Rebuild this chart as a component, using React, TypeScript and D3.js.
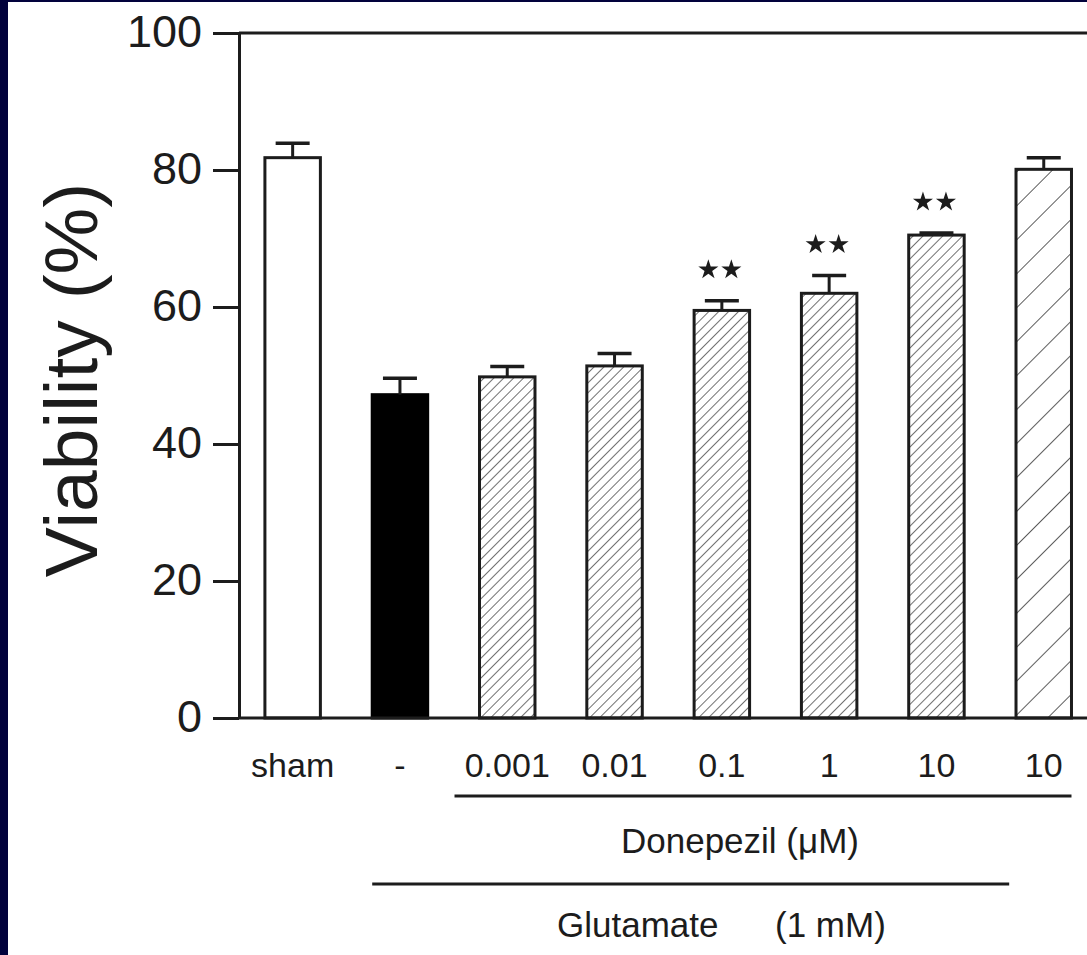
import React, { useRef, useEffect } from "react"
import * as d3 from "d3"

// groups along the x axis (last two are both 10 µM)
const categories = ["sham", "-", "0.001", "0.01", "0.1", "1", "10", "10"]
const viability = [81.8, 47.2, 49.8, 51.4, 59.5, 62.0, 70.5, 80.1]
const sem = [2.1, 2.4, 1.5, 1.8, 1.4, 2.6, 0.3, 1.7]
const barStyle = ["open", "solid", "hatch", "hatch", "hatch", "hatch", "hatch", "hatchWide"]
const significance = ["", "", "", "", "**", "**", "**", ""]
const yTicks = [0, 20, 40, 60, 80, 100]

const yLabel = "Viability (%)"
const donepezilLabel = "Donepezil (\u03bcM)"
const glutamateLabel = ["Glutamate", "(1 mM)"]

const W = 1087
const H = 955
const INK = "#1c1c1c"
const FONT = "'Liberation Sans', Arial, Helvetica, sans-serif"

export default function App() {
    const svgRef = useRef<SVGSVGElement>(null)

    useEffect(() => {
        if (!svgRef.current) return
        const svg = d3.select(svgRef.current)
        svg.selectAll("*").remove()

        // navy frame on the left / top edge
        svg.append("rect").attr("width", W).attr("height", H).attr("fill", "#02023c")
        svg.append("rect").attr("x", 8).attr("y", 2).attr("width", W).attr("height", H).attr("fill", "#ffffff")

        const defs = svg.append("defs")
        const addHatch = (id: string, gap: number, sw: number) => {
            defs.append("pattern")
                .attr("id", id)
                .attr("patternUnits", "userSpaceOnUse")
                .attr("width", gap)
                .attr("height", gap)
                .attr("patternTransform", "rotate(45)")
                .append("line")
                .attr("x1", 0).attr("y1", 0)
                .attr("x2", 0).attr("y2", gap)
                .attr("stroke", "#333")
                .attr("stroke-width", sw)
        }
        addHatch("hatch", 7, 1.4)
        addHatch("hatchWide", 24, 1.6)

        const left = 239
        const step = 107.3
        const ids = categories.map((_, i) => String(i))

        const x = d3.scaleBand<string>()
            .domain(ids)
            .range([left, left + step * categories.length])
            .paddingInner(0.483)
            .paddingOuter(0.2415)

        const y = d3.scaleLinear().domain([0, 100]).range([718, 33])

        const g = svg.append("g")

        // bars
        ids.forEach((id, i) => {
            const s = barStyle[i]
            const fill = s === "open" ? "#fff" : s === "solid" ? "#000" : `url(#${s})`
            g.append("rect")
                .attr("x", x(id)!)
                .attr("y", y(viability[i]))
                .attr("width", x.bandwidth())
                .attr("height", y(0) - y(viability[i]))
                .attr("fill", fill)
                .attr("stroke", s === "solid" ? "#000" : INK)
                .attr("stroke-width", 3)
        })

        // error bars (upper only)
        ids.forEach((id, i) => {
            const cx = x(id)! + x.bandwidth() / 2
            const top = y(viability[i] + sem[i])
            g.append("line")
                .attr("x1", cx).attr("x2", cx)
                .attr("y1", y(viability[i])).attr("y2", top)
                .attr("stroke", INK).attr("stroke-width", 3)
            g.append("line")
                .attr("x1", cx - 17).attr("x2", cx + 17)
                .attr("y1", top).attr("y2", top)
                .attr("stroke", INK).attr("stroke-width", 3.5)
        })

        // significance stars
        const star = d3.symbol().type(d3.symbolStar).size(125)
        ids.forEach((id, i) => {
            if (!significance[i]) return
            const cx = x(id)! + x.bandwidth() / 2 - 2
            const cy = y(viability[i] + sem[i]) - 31
            significance[i].split("").forEach((_, k, arr) => {
                const off = (k - (arr.length - 1) / 2) * 23
                g.append("path")
                    .attr("d", star()!)
                    .attr("transform", `translate(${cx + off},${cy})`)
                    .attr("fill", INK)
            })
        })

        // y axis
        const yAxis = g.append("g")
            .attr("transform", `translate(${left},0)`)
            .call(d3.axisLeft(y).tickValues(yTicks).tickSize(26).tickSizeOuter(0).tickPadding(11))
        yAxis.selectAll("line").attr("stroke", INK).attr("stroke-width", 3)
        yAxis.select(".domain").attr("stroke", INK).attr("stroke-width", 3)
        yAxis.selectAll("text")
            .attr("fill", INK)
            .attr("font-family", FONT)
            .attr("font-size", 45)
            .attr("dy", "0.3em")

        // frame top and baseline
        g.append("line")
            .attr("x1", left).attr("x2", W)
            .attr("y1", y(100)).attr("y2", y(100))
            .attr("stroke", INK).attr("stroke-width", 3)
        g.append("line")
            .attr("x1", left).attr("x2", W)
            .attr("y1", y(0)).attr("y2", y(0))
            .attr("stroke", INK).attr("stroke-width", 3)

        // category labels
        ids.forEach((id, i) => {
            g.append("text")
                .attr("x", x(id)! + x.bandwidth() / 2)
                .attr("y", 777)
                .attr("text-anchor", "middle")
                .attr("font-family", FONT)
                .attr("font-size", 34)
                .attr("fill", INK)
                .text(categories[i])
        })

        // treatment brackets
        const x2 = x("2")!
        const x7 = x("7")! + x.bandwidth()
        g.append("line")
            .attr("x1", x2 - 25).attr("x2", x7)
            .attr("y1", 796).attr("y2", 796)
            .attr("stroke", INK).attr("stroke-width", 3)
        g.append("text")
            .attr("x", 740)
            .attr("y", 853)
            .attr("text-anchor", "middle")
            .attr("font-family", FONT)
            .attr("font-size", 35)
            .attr("fill", INK)
            .text(donepezilLabel)

        const x1 = x("1")!
        const x6 = x("6")! + x.bandwidth()
        g.append("line")
            .attr("x1", x1).attr("x2", x6 + 45)
            .attr("y1", 884).attr("y2", 884)
            .attr("stroke", INK).attr("stroke-width", 3)
        g.append("text")
            .attr("x", 557)
            .attr("y", 937)
            .attr("font-family", FONT)
            .attr("font-size", 35)
            .attr("fill", INK)
            .text(glutamateLabel[0])
        g.append("text")
            .attr("x", 775)
            .attr("y", 937)
            .attr("font-family", FONT)
            .attr("font-size", 35)
            .attr("fill", INK)
            .text(glutamateLabel[1])

        // y axis title
        g.append("text")
            .attr("transform", `translate(97,${380}) rotate(-90)`)
            .attr("text-anchor", "middle")
            .attr("font-family", FONT)
            .attr("font-size", 75)
            .attr("fill", INK)
            .text(yLabel)
    }, [])

    return (
        <svg
            ref={svgRef}
            width={W}
            height={H}
            style={{ position: "absolute", left: 0, top: 0, display: "block" }}
        />
    )
}
